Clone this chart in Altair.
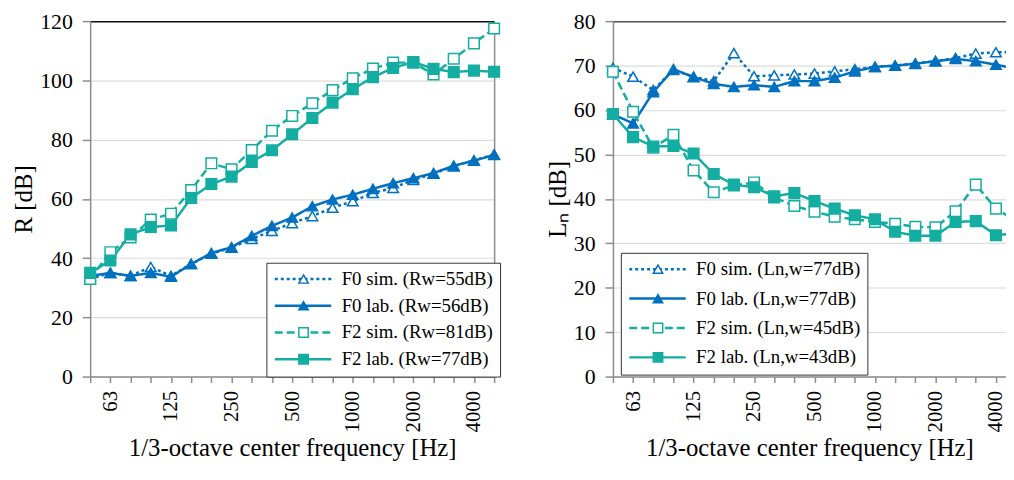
import altair as alt
import pandas as pd

# 1/3-octave band centre frequencies (Hz) and the tick labels shown
bands = [50, 63, 80, 100, 125, 160, 200, 250, 315, 400, 500, 630, 800,
         1000, 1250, 1600, 2000, 2500, 3150, 4000, 5000]
band_labels = ["", "63", "", "", "125", "", "", "250", "", "", "500", "", "",
               "1000", "", "", "2000", "", "", "4000", ""]

# Left panel: sound reduction index R [dB]
r_series = ["F0 sim. (Rw=55dB)", "F0 lab. (Rw=56dB)",
            "F2 sim. (Rw=81dB)", "F2 lab. (Rw=77dB)"]
r_f0_sim = [33, 35, 34, 37, 34, 38, 41.5, 43.5, 46.5, 49.2, 51.8, 54.2, 57,
            59.2, 62, 63.7, 66.4, 68.5, 71, 73, 75]
r_f0_lab = [34, 35, 34, 35, 33.7, 38, 41.7, 43.7, 47.5, 50.9, 53.7, 57.5, 59.8,
            61.4, 63.4, 65.3, 67, 68.7, 71.2, 72.9, 74.8]
r_f2_sim = [33, 42, 47, 53, 55, 63, 72, 70, 76.5, 83, 88, 92.3, 96.7,
            100.7, 104, 106, 106, 102, 107.3, 112.5, 117.5]
r_f2_lab = [35, 39.2, 48, 50.5, 51, 60.3, 65, 67.5, 72.5, 76.4, 81.8, 87.3, 92.5,
            97, 101.1, 104.2, 106.2, 103.9, 102.8, 103.3, 102.9]

# Right panel: impact sound pressure level Ln [dB]
ln_series = ["F0 sim. (Ln,w=77dB)", "F0 lab. (Ln,w=77dB)",
             "F2 sim. (Ln,w=45dB)", "F2 lab. (Ln,w=43dB)"]
ln_f0_sim = [69.5, 67.5, 64.5, 69, 67.5, 66.5, 72.8, 67.6, 67.8, 68, 68.2, 68.7,
             69.2, 69.7, 70, 70.5, 71, 71.7, 72.7, 73, 73]
ln_f0_lab = [59, 57, 64, 69.2, 67.4, 65.9, 65.2, 65.6, 65.2, 66.5, 66.5, 67.3,
             68.7, 69.7, 70, 70.4, 71, 71.5, 71, 70.2, 69.3]
ln_f2_sim = [68.6, 59.6, 51.5, 54.4, 46.4, 41.5, 43, 43.7, 40.3, 38.4, 37.1, 36,
             35.4, 34.8, 34.4, 33.7, 33.6, 37.2, 43.2, 37.8, 35]
ln_f2_lab = [59.1, 53.9, 51.8, 51.9, 50.2, 45.6, 43.2, 42.6, 40.6, 41.3, 39.5, 37.8,
             36.3, 35.4, 32.6, 31.7, 31.7, 34.8, 35, 31.8, 32.3]

BLUE = "#0070C0"
TEAL = "#14ADA1"
GRAY = "#8C8C8C"
FONT = "Liberation Serif"


def long_df(names, arrays):
    rows = []
    for name, arr in zip(names, arrays):
        for i, v in enumerate(arr):
            rows.append({"idx": i, "band": bands[i], "value": v, "series": name})
    return pd.DataFrame(rows)


label_expr = "[" + ",".join("'%s'" % s for s in band_labels) + "][datum.value]"


def panel(df, names, ymax, ystep, ytitle, xmax, tick_vals, leg, top_color,
          right_border, clip, max_pt_idx):
    x_scale = alt.Scale(domain=[0, xmax], nice=False, zero=False)
    y_scale = alt.Scale(domain=[0, ymax], nice=False)
    color_scale = alt.Scale(domain=names, range=[BLUE, BLUE, TEAL, TEAL])
    dash_scale = alt.Scale(domain=names, range=[[3, 3], [1, 0], [8, 4], [1, 0]])
    shape_scale = alt.Scale(domain=names,
                            range=["triangle-up", "triangle-up", "square", "square"])
    fill_scale = alt.Scale(domain=names, range=["white", BLUE, "white", TEAL])

    x_bottom = alt.Axis(values=tick_vals, labelExpr=label_expr, labelAngle=270,
                        labelAlign="right", labelBaseline="middle", tickSize=6,
                        labelPadding=8, labelFontSize=21, grid=False,
                        title="1/3-octave center frequency [Hz]", titlePadding=4)
    y_left = alt.Axis(values=list(range(0, ymax + 1, ystep)), tickSize=8,
                      labelPadding=10, grid=True, title=ytitle, titlePadding=3)
    x_top = alt.Axis(orient="top", labels=False, ticks=False, grid=False,
                     title=None, domainColor=top_color, domainWidth=1.5)
    if right_border:
        y_right = alt.Axis(orient="right", labels=False, ticks=False, grid=False,
                           title=None, domainColor=GRAY, domainWidth=1.5)
    else:
        y_right = None

    line_leg = alt.Legend(orient="none", legendX=leg["x"], legendY=leg["y"],
                          title=None, symbolType="stroke", symbolSize=3249,
                          symbolStrokeWidth=2.5, labelFontSize=19, labelFont=FONT,
                          labelColor="black", labelLimit=400, labelOffset=9,
                          padding=7, rowPadding=leg["rp"], clipHeight=19,
                          strokeColor="#333333", fillColor="white", zindex=1)
    pt_leg = alt.Legend(orient="none", legendX=leg["x"] + 21, legendY=leg["y"],
                        title=None, symbolSize=90, symbolStrokeWidth=1.5,
                        labelFontSize=19, labelFont=FONT, labelExpr="''",
                        padding=7, rowPadding=leg["rp"], clipHeight=19, zindex=2)

    lines = alt.Chart(df).mark_line(strokeWidth=2.5, clip=clip).encode(
        x=alt.X("idx:Q", scale=x_scale, axis=x_bottom),
        y=alt.Y("value:Q", scale=y_scale, axis=y_left),
        color=alt.Color("series:N", scale=color_scale, legend=line_leg),
        strokeDash=alt.StrokeDash("series:N", scale=dash_scale, legend=line_leg),
    )
    pts = alt.Chart(df).transform_filter(
        alt.datum.idx <= max_pt_idx
    ).mark_point(filled=True, size=115, strokeWidth=1.5, opacity=1).encode(
        x=alt.X("idx:Q", scale=x_scale, axis=x_top),
        y=alt.Y("value:Q", scale=y_scale, axis=y_right),
        stroke=alt.Stroke("series:N", scale=color_scale, legend=pt_leg),
        fill=alt.Fill("series:N", scale=fill_scale, legend=pt_leg),
        shape=alt.Shape("series:N", scale=shape_scale, legend=pt_leg),
    )
    return alt.layer(lines, pts).resolve_axis(
        x="independent", y="independent"
    ).resolve_legend(
        color="independent", strokeDash="independent", stroke="independent",
        fill="independent", shape="independent"
    )


df_r = long_df(r_series, [r_f0_sim, r_f0_lab, r_f2_sim, r_f2_lab])
df_ln = long_df(ln_series, [ln_f0_sim, ln_f0_lab, ln_f2_sim, ln_f2_lab])

left = panel(df_r, r_series, 120, 20, "R [dB]", 20, list(range(21)),
             {"x": 178, "y": 244, "rp": 7}, "#111111", True, False, 20
             ).properties(width=408, height=359)
right = panel(df_ln, ln_series, 80, 10, "Lₙ [dB]", 19.5, list(range(20)),
              {"x": 8, "y": 234, "rp": 9.7}, "#555555", False, True, 19
              ).properties(width=397, height=359)

chart = alt.hconcat(left, right, spacing=43).resolve_scale(
    color="independent", strokeDash="independent", stroke="independent",
    fill="independent", shape="independent"
).resolve_legend(
    color="independent", strokeDash="independent", stroke="independent",
    fill="independent", shape="independent"
).properties(
    padding={"left": 4, "top": 0, "right": 0, "bottom": 0}
).configure_axis(
    labelFont=FONT, titleFont=FONT, labelFontSize=22, titleFontSize=25,
    titleFontWeight="normal", labelColor="black", titleColor="black",
    domainColor=GRAY, tickColor=GRAY, gridColor="#DCDCDC",
    domainWidth=1.5, tickWidth=1.5, gridWidth=1.2
).configure_view(stroke=None)

chart.save("out.html", embed_options={"renderer": "svg", "actions": False})
